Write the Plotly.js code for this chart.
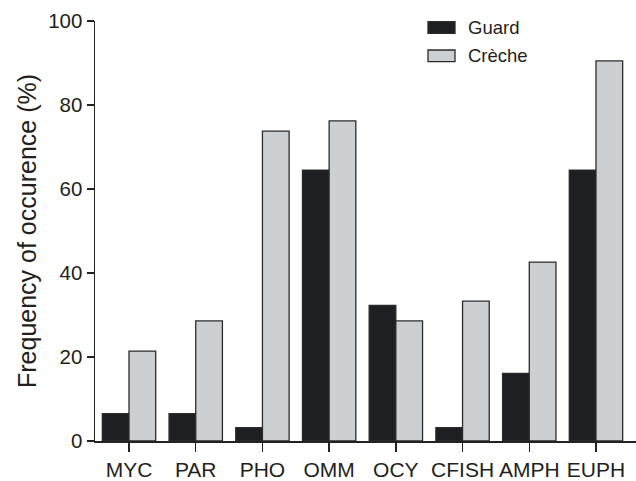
<!DOCTYPE html>
<html>
<head>
<meta charset="utf-8">
<script src="https://cdn.plot.ly/plotly-3.0.1.min.js"></script>
<style>html,body{margin:0;padding:0;background:#fff;}#chart{width:636px;height:481px;}</style>
</head>
<body>
<div id="chart"></div>
<script>
var categories = ["MYC", "PAR", "PHO", "OMM", "OCY", "CFISH", "AMPH", "EUPH"];
var guardValues = [6.5, 6.5, 3.2, 64.5, 32.3, 3.2, 16.1, 64.5];
var crecheValues = [21.4, 28.6, 73.8, 76.2, 28.6, 33.3, 42.6, 90.5];
var seriesNames = ["Guard", "Crèche"];
var yTicks = [0, 20, 40, 60, 80, 100];

var W = 636, H = 481;
var M = {l: 95, r: 0, t: 21, b: 40};
var pw = W - M.l - M.r, ph = H - M.t - M.b;
function px(x) { return (x - M.l) / pw; }
function py(y) { return 1 - (y - M.t) / ph; }

var textColor = "#231f20";
var outline = "#2b2b2b";
var guardFill = "#1e1f22";
var crecheFill = "#cdd0d3";

var traces = [
  {type: "bar", name: seriesNames[0], x: categories, y: guardValues,
   marker: {color: guardFill, line: {color: outline, width: 1.3}}, showlegend: false, hoverinfo: "none"},
  {type: "bar", name: seriesNames[1], x: categories, y: crecheValues,
   marker: {color: crecheFill, line: {color: outline, width: 1.3}}, showlegend: false, hoverinfo: "none"}
];

var layout = {
  width: W, height: H,
  margin: M,
  paper_bgcolor: "#fff", plot_bgcolor: "#fff",
  font: {family: "Liberation Sans, Arial, sans-serif", color: textColor},
  barmode: "group", bargap: 0.2, bargroupgap: 0,
  xaxis: {
    range: [-0.51, 7.6], showgrid: false, zeroline: false,
    showline: true, linecolor: "#222", linewidth: 1.5,
    ticks: "outside", ticklen: 9, tickwidth: 1.5, tickcolor: "#222",
    tickfont: {size: 21, color: textColor}, fixedrange: true
  },
  yaxis: {
    range: [0, 100], tickvals: yTicks, showgrid: false, zeroline: false,
    showline: true, linecolor: "#222", linewidth: 1.5,
    ticks: "outside", ticklen: 7, tickwidth: 1.5, tickcolor: "#222",
    tickfont: {size: 20.5, color: textColor},
    title: {text: "Frequency of occurence (%)", font: {size: 25, color: textColor}, standoff: 4},
    fixedrange: true
  },
  shapes: [
    {type: "rect", xref: "paper", yref: "paper", x0: px(428), x1: px(455), y0: py(33.3), y1: py(21.7),
     fillcolor: guardFill, line: {color: outline, width: 1.3}},
    {type: "rect", xref: "paper", yref: "paper", x0: px(428), x1: px(455), y0: py(61.7), y1: py(50),
     fillcolor: crecheFill, line: {color: outline, width: 1.3}}
  ],
  annotations: [
    {xref: "paper", yref: "paper", x: px(466), y: py(27.5), text: seriesNames[0], showarrow: false,
     xanchor: "left", yanchor: "middle", font: {size: 18.5, color: textColor}},
    {xref: "paper", yref: "paper", x: px(466), y: py(55.8), text: seriesNames[1], showarrow: false,
     xanchor: "left", yanchor: "middle", font: {size: 18.5, color: textColor}}
  ]
};

Plotly.newPlot("chart", traces, layout, {displayModeBar: false, staticPlot: true});
</script>
</body>
</html>
